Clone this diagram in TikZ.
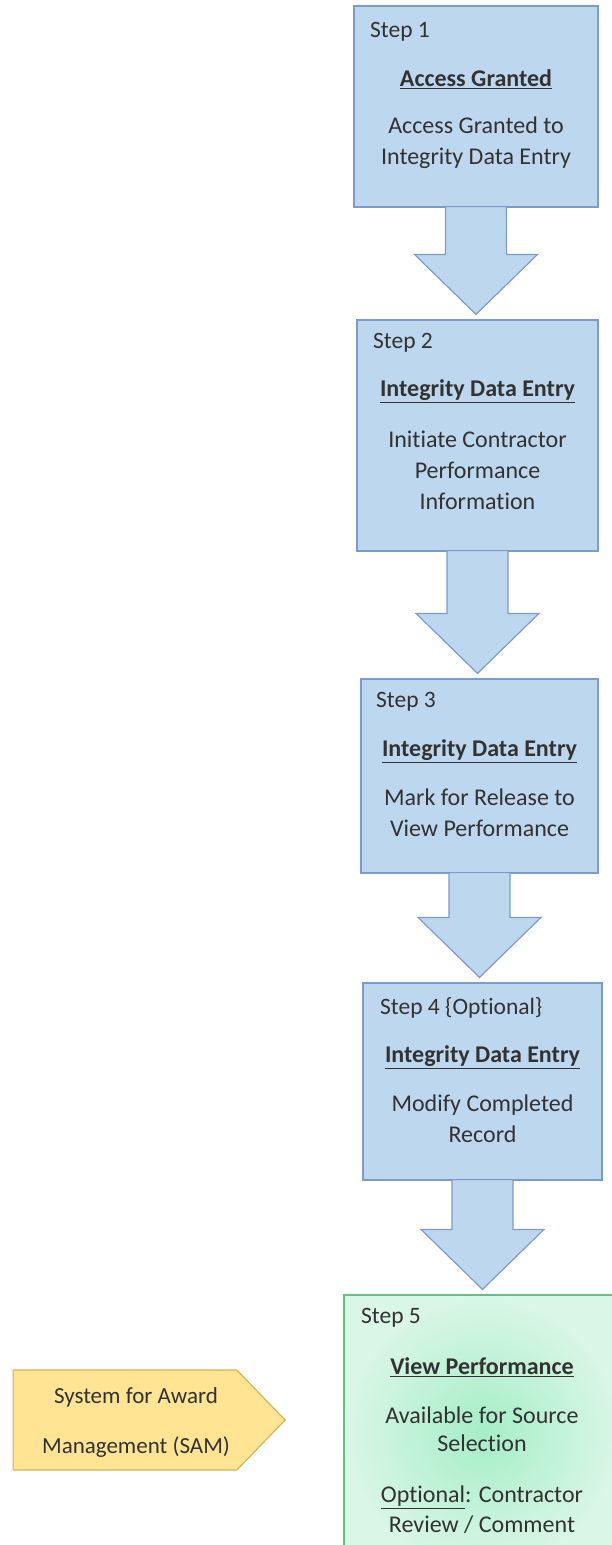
\documentclass[tikz,border=0pt]{standalone}
\usepackage{fontspec}
\setmainfont{Carlito}[Ligatures=NoCommon]
\usetikzlibrary{positioning,calc,shapes.symbols}
\definecolor{stepblue}{RGB}{189,215,238}
\definecolor{stepborder}{RGB}{125,155,200}
\definecolor{viewgreen}{RGB}{165,238,198}
\definecolor{viewpale}{RGB}{218,246,231}
\definecolor{viewborder}{RGB}{95,195,130}
\definecolor{samyellow}{RGB}{255,228,148}
\definecolor{samborder}{RGB}{215,180,85}
\definecolor{inktext}{RGB}{50,50,50}
\newcommand{\steptitle}[1]{\underline{\textbf{#1}}}
% block arrow from the bottom of one step to the top of the next
\newcommand{\stepArrow}[2]{%
  \draw[bigarrow] let \p1=(#1.south), \p2=(#2.north) in
    (\x1-30.5,\y1+1) -- (\x1-30.5,\y2+65) -- (\x1-61.5,\y2+65) -- (\x1,\y2+5)
    -- (\x1+61.5,\y2+65) -- (\x1+30.5,\y2+65) -- (\x1+30.5,\y1+1) -- cycle;}
\tikzset{
  stepbox/.style={draw=stepborder, fill=stepblue, line width=1.2pt, inner sep=0pt},
  bigarrow/.style={draw=stepborder, fill=stepblue, line width=1.2pt, line join=miter},
  steplabel/.style={anchor=west, inner sep=0pt, text=inktext, font=\fontsize{23.5}{30}\selectfont},
  stepbody/.style={inner sep=0pt, align=center, text=inktext, font=\fontsize{24}{31}\selectfont},
}
\begin{document}
\begin{tikzpicture}[x=1pt,y=1pt]
\useasboundingbox (0,0) rectangle (612,-1545);
\clip (0,0) rectangle (612,-1545);
%% the step boxes
\node[stepbox, minimum width=244pt, minimum height=201pt] (stepOne) at (476,-106.5) {};
\node[stepbox, minimum width=241pt, minimum height=231pt] (stepTwo) at (477.5,-435.5) {};
\node[stepbox, minimum width=237pt, minimum height=194pt] (stepThree) at (479.5,-776) {};
\node[stepbox, minimum width=239pt, minimum height=197pt] (stepFour) at (482.5,-1081.5) {};
\node[draw=viewborder, line width=1.2pt, inner color=viewgreen, outer color=viewpale,
      minimum width=276pt, minimum height=275pt, inner sep=0pt] (stepFive) at (482,-1432.5) {};
%the arrows
\stepArrow{stepOne}{stepTwo}
\stepArrow{stepTwo}{stepThree}
\stepArrow{stepThree}{stepFour}
\stepArrow{stepFour}{stepFive}
%texts of step 1
\node[steplabel] (oneLabel) at (370,-32) {Step 1};
\node[stepbody] (oneTitle) at (476,-79) {\steptitle{Access Granted}};
\node[stepbody] (oneBody) at (476,-143) {Access Granted to\\Integrity Data Entry};
%texts of step 2
\node[steplabel] (twoLabel) at (373,-343) {Step 2};
\node[stepbody] (twoTitle) at (477.5,-391) {\steptitle{Integrity Data Entry}};
\node[stepbody] (twoBody) at (477.5,-470) {Initiate Contractor\\Performance\\Information};
%texts of step 3
\node[steplabel] (threeLabel) at (376,-702) {Step 3};
\node[stepbody] (threeTitle) at (479.5,-751) {\steptitle{Integrity Data Entry}};
\node[stepbody] (threeBody) at (479.5,-813) {Mark for Release to\\View Performance};
%texts of step 4
\node[steplabel] (fourLabel) at (380,-1008) {Step 4 \{Optional\}};
\node[stepbody] (fourTitle) at (482.5,-1057) {\steptitle{Integrity Data Entry}};
\node[stepbody] (fourBody) at (482.5,-1119) {Modify Completed\\Record};
%texts of step 5
\node[steplabel] (fiveLabel) at (361,-1318) {Step 5};
\node[stepbody] (fiveTitle) at (482,-1367) {\steptitle{View Performance}};
\node[stepbody, font=\fontsize{24}{28}\selectfont] (fiveBody) at (482,-1429) {Available for Source\\Selection};
\node[stepbody, font=\fontsize{24}{30}\selectfont] (fiveOption) at (482,-1510) {\underline{Optional}: Contractor\\Review / Comment};
%% SAM
\node[signal, signal to=east, signal pointer angle=92, draw=samborder, fill=samyellow,
      line width=1.2pt, minimum width=272pt, minimum height=100pt, inner sep=0pt] (samBox) at (125,-1420) {};
\node[stepbody, font=\fontsize{23}{50}\selectfont] (samText) at (136,-1422) {System for Award\\Management (SAM)};
\end{tikzpicture}
\end{document}
